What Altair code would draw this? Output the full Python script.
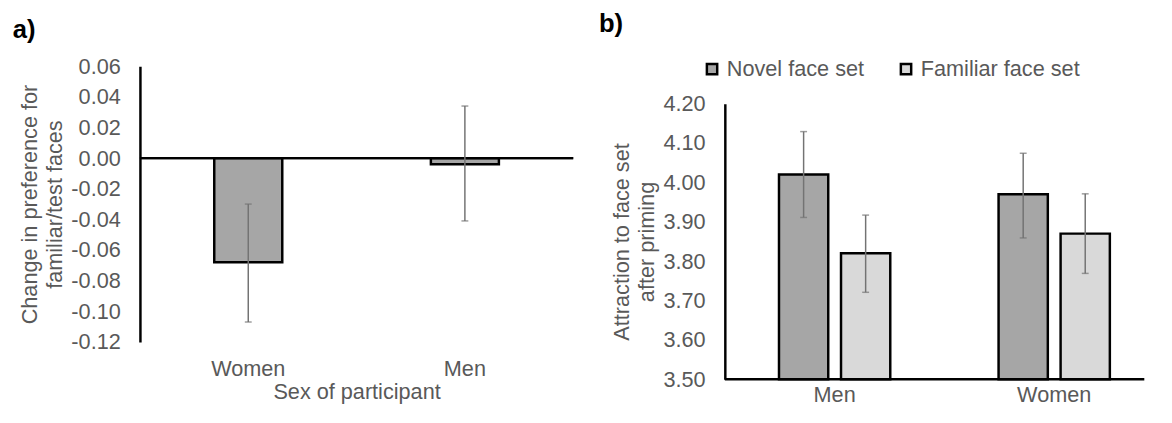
import altair as alt
import pandas as pd

# ---------------- data: panel a ----------------
a_groups = ["Women", "Men"]
a_means = [-0.068, -0.004]
a_lower = [-0.107, -0.041]
a_upper = [-0.030, 0.034]
a_ticks = [0.06, 0.04, 0.02, 0.00, -0.02, -0.04, -0.06, -0.08, -0.10, -0.12]

# ---------------- data: panel b ----------------
b_groups = ["Men", "Women"]
b_series = ["Novel face set", "Familiar face set"]
b_novel = [4.02, 3.97]
b_novel_lo = [3.911, 3.859]
b_novel_hi = [4.129, 4.074]
b_fam = [3.82, 3.87]
b_fam_lo = [3.721, 3.769]
b_fam_hi = [3.917, 3.971]
b_ticks = [3.5, 3.6, 3.7, 3.8, 3.9, 4.0, 4.1, 4.2]
b_base = [3.5]

FONT = "Liberation Sans"
GREY_TXT = "#595959"
ERR = "#737373"

PLOT_H = 280      # height of the value axis in both panels
SHIFT = 38        # panel b sits lower than panel a by this much
FULL_H = PLOT_H + SHIFT

df_a = pd.DataFrame({"sex": a_groups, "mean": a_means, "lo": a_lower, "hi": a_upper})

rows = []
for i, g in enumerate(b_groups):
    rows.append({"group": g, "series": b_series[0], "mean": b_novel[i], "lo": b_novel_lo[i], "hi": b_novel_hi[i]})
    rows.append({"group": g, "series": b_series[1], "mean": b_fam[i], "lo": b_fam_lo[i], "hi": b_fam_hi[i]})
df_b = pd.DataFrame(rows)
df_base = pd.DataFrame({"mean": b_base})

# ---------------- panel a ----------------
xa = alt.X("sex:N", sort=a_groups,
           scale=alt.Scale(paddingInner=0.686, paddingOuter=0.343),
           axis=alt.Axis(title="Sex of participant", labelAngle=0, domain=False, ticks=False,
                         labelPadding=17, titlePadding=2, offset=-SHIFT))
ya_axis = alt.Axis(title=["Change in preference for", "familiar/test faces"],
                   values=a_ticks, tickCount=len(a_ticks), format=".2f", labelOverlap=False,
                   grid=False, ticks=False, tickSize=0,
                   labelPadding=20, titlePadding=5, domainColor="black", domainWidth=2.5)
ya_scale = alt.Scale(domain=[-0.12, 0.06], nice=False, zero=False, range=[PLOT_H, 0])
ya = alt.Y("mean:Q", scale=ya_scale, axis=ya_axis)

bars_a = alt.Chart(df_a).mark_bar(color="#a6a6a6", stroke="black", strokeWidth=2.5).encode(
    x=xa, y=ya, y2=alt.datum(0))
zero_a = alt.Chart(df_a).mark_rule(color="black", strokeWidth=2.5).encode(y=alt.datum(0))
xa_plain = alt.X("sex:N", sort=a_groups)
err_a = alt.Chart(df_a).mark_rule(color=ERR, strokeWidth=1.5).encode(
    x=xa_plain, y=alt.Y("lo:Q", axis=ya_axis), y2="hi:Q")
cap_lo_a = alt.Chart(df_a).mark_tick(color=ERR, thickness=1.5, size=7).encode(
    x=xa_plain, y=alt.Y("lo:Q", axis=ya_axis))
cap_hi_a = alt.Chart(df_a).mark_tick(color=ERR, thickness=1.5, size=7).encode(
    x=xa_plain, y=alt.Y("hi:Q", axis=ya_axis))

panel_a = alt.layer(bars_a, zero_a, err_a, cap_lo_a, cap_hi_a).properties(
    width=440, height=FULL_H,
    title=alt.Title("a)", anchor="start", frame="bounds", fontSize=26, fontWeight="bold",
                    color="black", font=FONT, offset=13, dx=-6))

# ---------------- panel b ----------------
xb = alt.X("group:N", sort=b_groups,
           scale=alt.Scale(paddingInner=0, paddingOuter=0, range=[0, 446]),
           axis=alt.Axis(title=None, labelAngle=0, ticks=False, domain=False, labelPadding=6))
xb_plain = alt.X("group:N", sort=b_groups)
xob = alt.XOffset("series:N", sort=b_series,
                  scale=alt.Scale(paddingInner=0.206, paddingOuter=0.873))
xob_plain = alt.XOffset("series:N", sort=b_series)
yb_axis = alt.Axis(title=["Attraction to face set", "after priming"], values=b_ticks,
                   tickCount=len(b_ticks), format=".2f", labelOverlap=False, grid=False,
                   ticks=False, tickSize=0, labelPadding=20, titlePadding=5,
                   domainColor="black", domainWidth=2.5)
yb = alt.Y("mean:Q", scale=alt.Scale(domain=[3.5, 4.2], nice=False, zero=False,
                                     range=[FULL_H, SHIFT]), axis=yb_axis)
color_b = alt.Color("series:N", sort=b_series,
                    scale=alt.Scale(domain=b_series, range=["#a6a6a6", "#d9d9d9"]),
                    legend=alt.Legend(title=None, orient="none", legendX=570, legendY=-8,
                                      direction="horizontal", symbolType="square", symbolSize=110,
                                      symbolStrokeColor="black", symbolStrokeWidth=2.5,
                                      symbolOpacity=1, labelFontSize=22, labelColor=GREY_TXT,
                                      labelFont=FONT, labelLimit=400, columnPadding=31,
                                      labelOffset=4))

bars_b = alt.Chart(df_b).mark_bar(stroke="black", strokeWidth=2.5, opacity=1).encode(
    x=xb, xOffset=xob, y=yb, y2=alt.datum(3.5), color=color_b)
base_b = alt.Chart(df_base).mark_rule(color="black", strokeWidth=2.5).encode(
    y=alt.Y("mean:Q", axis=yb_axis))
err_b = alt.Chart(df_b).mark_rule(color=ERR, strokeWidth=1.5).encode(
    x=xb_plain, xOffset=xob_plain, y=alt.Y("lo:Q", axis=yb_axis), y2="hi:Q")
cap_lo_b = alt.Chart(df_b).mark_tick(color=ERR, thickness=1.5, size=7).encode(
    x=xb_plain, xOffset=xob_plain, y=alt.Y("lo:Q", axis=yb_axis))
cap_hi_b = alt.Chart(df_b).mark_tick(color=ERR, thickness=1.5, size=7).encode(
    x=xb_plain, xOffset=xob_plain, y=alt.Y("hi:Q", axis=yb_axis))

panel_b = alt.layer(bars_b, base_b, err_b, cap_lo_b, cap_hi_b).properties(
    width=426, height=FULL_H,
    title=alt.Title("b)", anchor="start", frame="bounds", fontSize=26, fontWeight="bold",
                    color="black", font=FONT, offset=30, dx=-12))

chart = alt.hconcat(panel_a, panel_b, spacing=24).properties(
    padding={"left": 4, "top": 0, "right": 0, "bottom": 0}
).configure(
    font=FONT,
    locale={"number": {"decimal": ".", "thousands": ",", "grouping": [3],
                       "currency": ["$", ""], "minus": "-"}}
).configure_view(stroke=None).configure_axis(
    labelFont=FONT, titleFont=FONT, labelFontSize=22, titleFontSize=22,
    labelColor=GREY_TXT, titleColor=GREY_TXT, titleFontWeight="normal", titleLineHeight=25,
    labelOverlap=False
).configure_concat(spacing=24)

chart.save("out.html", embed_options={"renderer": "svg", "actions": False})
